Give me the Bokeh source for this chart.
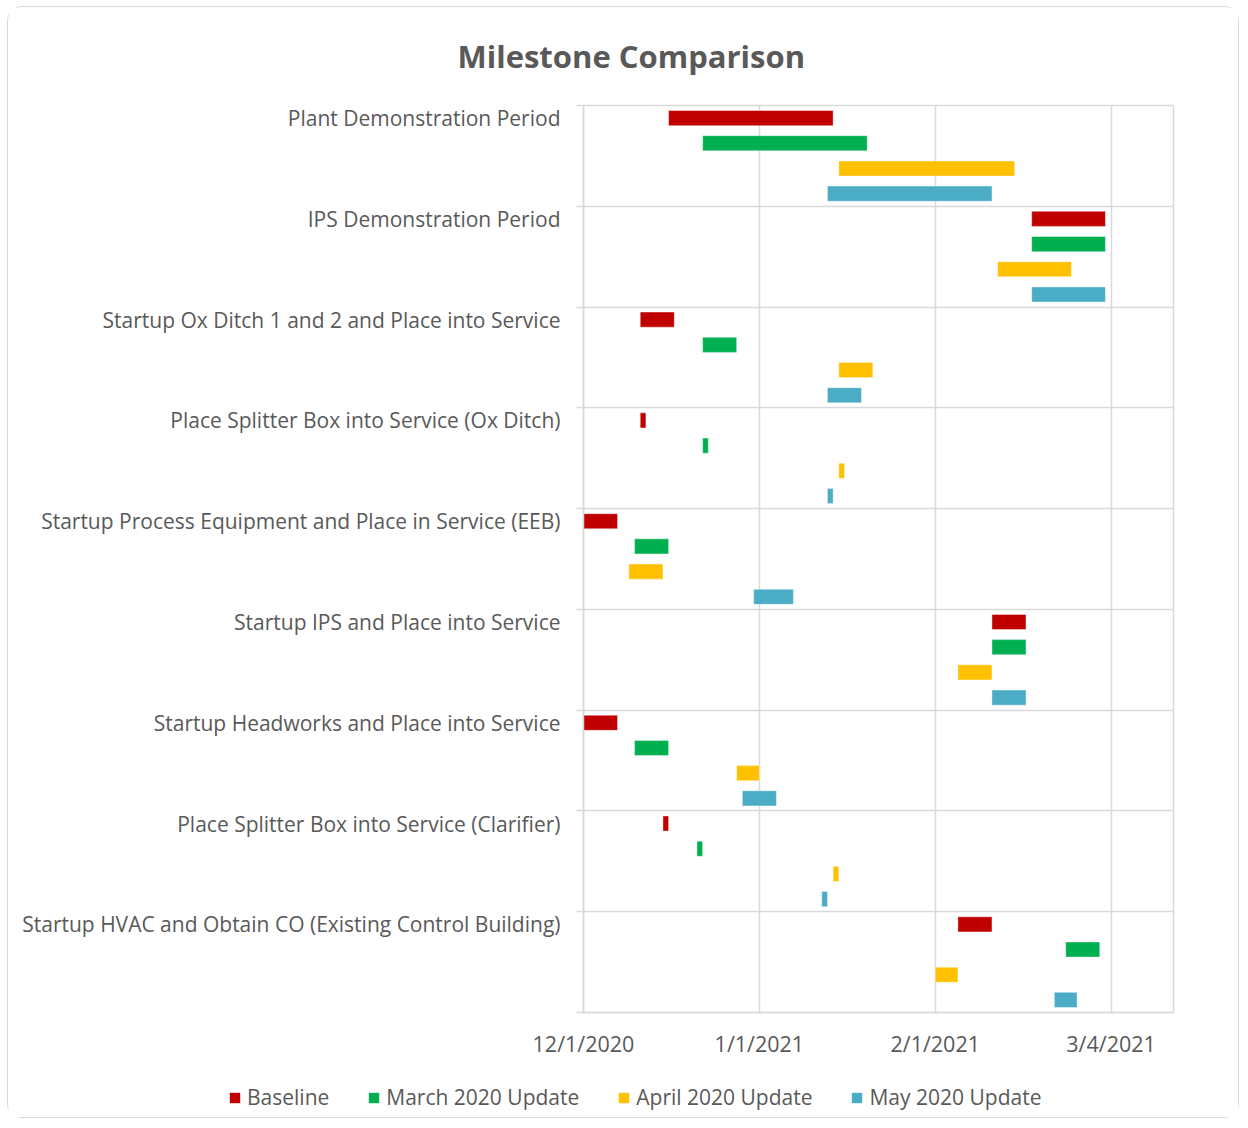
import pandas as pd
from bokeh.plotting import figure
from bokeh.layouts import column
from bokeh.models import (Range1d, FixedTicker, Legend, LegendItem, ColumnDataSource)
from bokeh.embed import file_html
from bokeh.resources import INLINE

milestones = [
    "Plant Demonstration Period",
    "IPS Demonstration Period",
    "Startup Ox Ditch 1 and 2 and Place into Service",
    "Place Splitter Box into Service (Ox Ditch)",
    "Startup Process Equipment and Place in Service (EEB)",
    "Startup IPS and Place into Service",
    "Startup Headworks and Place into Service",
    "Place Splitter Box into Service (Clarifier)",
    "Startup HVAC and Obtain CO (Existing Control Building)",
]

series_names = ["Baseline", "March 2020 Update", "April 2020 Update", "May 2020 Update"]
series_colors = ["#C00000", "#00B050", "#FFC000", "#4BACC6"]

baseline_start = ["2020-12-16", "2021-02-18", "2020-12-11", "2020-12-11", "2020-12-01",
                  "2021-02-11", "2020-12-01", "2020-12-15", "2021-02-05"]
baseline_end = ["2021-01-14", "2021-03-03", "2020-12-17", "2020-12-12", "2020-12-07",
                "2021-02-17", "2020-12-07", "2020-12-16", "2021-02-11"]

march_start = ["2020-12-22", "2021-02-18", "2020-12-22", "2020-12-22", "2020-12-10",
               "2021-02-11", "2020-12-10", "2020-12-21", "2021-02-24"]
march_end = ["2021-01-20", "2021-03-03", "2020-12-28", "2020-12-23", "2020-12-16",
             "2021-02-17", "2020-12-16", "2020-12-22", "2021-03-02"]

april_start = ["2021-01-15", "2021-02-12", "2021-01-15", "2021-01-15", "2020-12-09",
               "2021-02-05", "2020-12-28", "2021-01-14", "2021-02-01"]
april_end = ["2021-02-15", "2021-02-25", "2021-01-21", "2021-01-16", "2020-12-15",
             "2021-02-11", "2021-01-01", "2021-01-15", "2021-02-05"]

may_start = ["2021-01-13", "2021-02-18", "2021-01-13", "2021-01-13", "2020-12-31",
             "2021-02-11", "2020-12-29", "2021-01-12", "2021-02-22"]
may_end = ["2021-02-11", "2021-03-03", "2021-01-19", "2021-01-14", "2021-01-07",
           "2021-02-17", "2021-01-04", "2021-01-13", "2021-02-26"]

tick_dates = ["2020-12-01", "2021-01-01", "2021-02-01", "2021-03-04"]
tick_labels = ["12/1/2020", "1/1/2021", "2/1/2021", "3/4/2021"]
axis_start = "2020-12-01"
axis_end = "2021-03-15"

origin = pd.Timestamp(axis_start)


def days(lst):
    return [float((pd.Timestamp(d) - origin).days) for d in lst]


starts = [baseline_start, march_start, april_start, may_start]
ends = [baseline_end, march_end, april_end, may_end]

n = len(milestones)
nser = len(series_names)

FONT = "Open Sans"
FS = "21px"
TXT = "#595959"
GRID = "#d9d9d9"

p = figure(width=1230, height=1053, output_backend="svg", toolbar_location=None,
           x_range=Range1d(0, days([axis_end])[0]),
           y_range=Range1d(n * nser, 0),
           min_border_left=575, min_border_right=65, min_border_top=98,
           min_border_bottom=48)
p.frame_align = False

sources = []
for s in range(nser):
    src = ColumnDataSource(dict(
        y=[g * nser + s + 0.5 for g in range(n)],
        left=days(starts[s]),
        right=days(ends[s]),
    ))
    sources.append(src)
    p.hbar(y="y", left="left", right="right", height=0.6, source=src,
           fill_color=series_colors[s], line_color="white", line_alpha=0.5,
           line_width=0.8)

# title
p.title.text = "Milestone Comparison"
p.title.text_font = FONT
p.title.text_font_size = "31px"
p.title.text_font_style = "bold"
p.title.text_color = TXT
p.title.align = "left"
p.title.offset = -126
p.title.vertical_align = "top"
p.title.standoff = 54

# axes
xt = days(tick_dates)
p.xaxis.ticker = FixedTicker(ticks=xt)
p.xaxis.major_label_overrides = {v: l for v, l in zip(xt, tick_labels)}
p.xaxis.major_tick_line_color = None
p.xaxis.minor_tick_line_color = None
p.xaxis.axis_line_color = GRID
p.xaxis.axis_line_width = 1.5
p.xaxis.major_label_text_font = FONT
p.xaxis.major_label_text_font_size = "21.5px"
p.xaxis.major_label_text_color = TXT
p.xaxis.major_label_standoff = 10

label_pos = [g * nser + 0.5 for g in range(n)]
bounds = [float(g * nser) for g in range(n + 1)]
p.yaxis.ticker = FixedTicker(ticks=label_pos, minor_ticks=bounds)
p.yaxis.major_label_overrides = {v: l for v, l in zip(label_pos, milestones)}
p.yaxis.major_tick_out = 0
p.yaxis.major_tick_in = 0
p.yaxis.minor_tick_out = 7
p.yaxis.minor_tick_in = 0
p.yaxis.minor_tick_line_color = GRID
p.yaxis.minor_tick_line_width = 1.5
p.yaxis.axis_line_color = GRID
p.yaxis.axis_line_width = 1.5
p.yaxis.major_label_text_font = FONT
p.yaxis.major_label_text_font_size = FS
p.yaxis.major_label_text_color = TXT
p.yaxis.major_label_standoff = 16

p.xgrid.ticker = FixedTicker(ticks=xt)
p.xgrid.grid_line_color = GRID
p.xgrid.grid_line_width = 1.5
p.ygrid.ticker = FixedTicker(ticks=bounds)
p.ygrid.grid_line_color = GRID
p.ygrid.grid_line_width = 1.5

p.outline_line_color = GRID
p.outline_line_width = 1.5

# legend strip below the chart (zero-height bars: only the legend swatches show)
q = figure(width=1230, height=57, output_backend="svg", toolbar_location=None,
           x_range=Range1d(0, days([axis_end])[0]), y_range=Range1d(n * nser, 0),
           x_axis_type=None, y_axis_type=None, min_border=0)
q.frame_align = False
q.grid.visible = False
q.outline_line_color = None

items = []
for s in range(nser):
    r = q.hbar(y="y", left="left", right="right", height=0, source=sources[s],
               fill_color=series_colors[s], line_color=None)
    items.append(LegendItem(label=series_names[s], renderers=[r]))

legend = Legend(items=items, orientation="horizontal", location=(220, 6),
                label_text_font=FONT, label_text_font_size=FS,
                label_text_color=TXT, glyph_width=13, glyph_height=13,
                label_standoff=6, spacing=38, border_line_color=None,
                background_fill_alpha=0, margin=0, padding=6)
q.add_layout(legend)

layout = column(p, q, spacing=0)
layout.styles = {"border": "1px solid #d9d9d9", "border-radius": "14px",
                 "margin-left": "7px", "margin-top": "6px"}

open("out.html", "w").write(file_html(layout, INLINE))
